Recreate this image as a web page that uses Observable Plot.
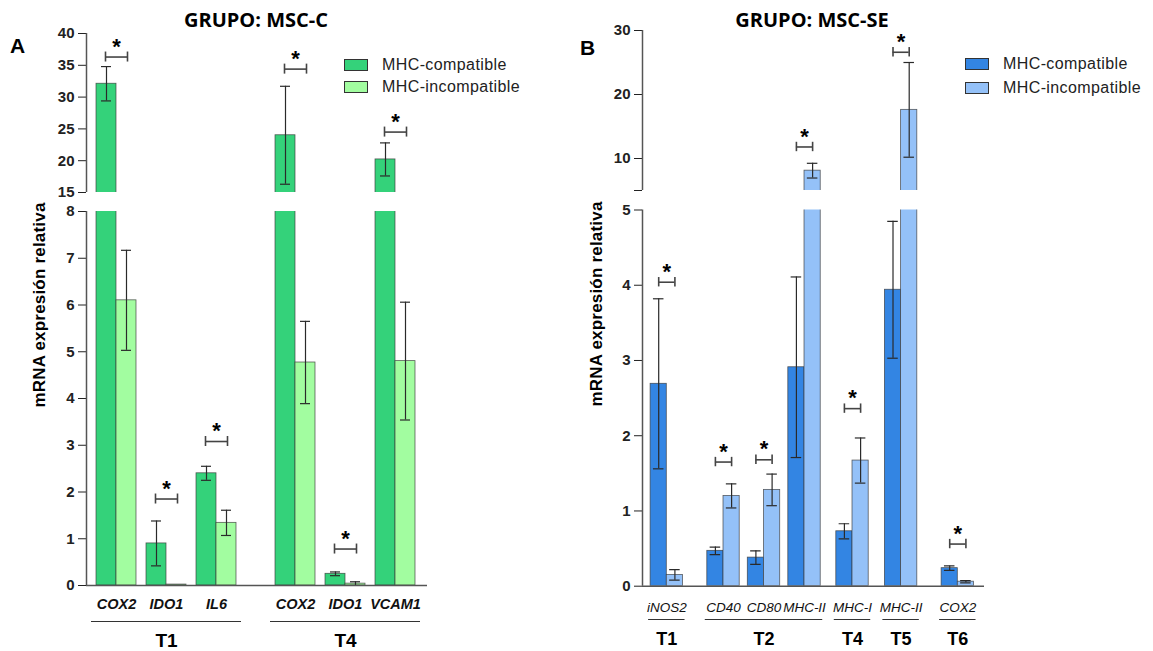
<!DOCTYPE html>
<html><head><meta charset="utf-8">
<script src="https://cdn.jsdelivr.net/npm/d3@7"></script>
<script src="https://cdn.jsdelivr.net/npm/@observablehq/plot@0.6"></script>
<style>
body{margin:0;background:#fff;}
#root{position:relative;width:1153px;height:651px;overflow:hidden;font-family:"Liberation Sans",Arial,sans-serif;background:#fff;}
.abs{position:absolute;}
.title{font-family:"Open Sans",sans-serif;font-weight:700;font-size:20px;line-height:20px;color:#000;white-space:nowrap;transform:translateX(-50%);}
.letter{font-family:"Liberation Sans",Arial,sans-serif;font-weight:700;font-size:21px;line-height:21px;color:#000;}
.ytitle{font-family:"Liberation Sans",Arial,sans-serif;font-weight:700;font-size:17px;line-height:17px;letter-spacing:0.2px;white-space:nowrap;color:#000;transform:translate(-50%,-50%) rotate(-90deg);}
.leg{font-family:"Liberation Sans",Arial,sans-serif;font-size:16px;line-height:16px;letter-spacing:0.4px;color:#222;white-space:nowrap;transform:translateY(-50%);}
.sw{width:22px;height:10px;border:1px solid #333;transform:translateY(-50%);}
</style></head>
<body><div id="root"></div>
<script>
// ---------------- DATA ----------------
const seriesNames = ["MHC-compatible", "MHC-incompatible"];

// Panel A — GRUPO: MSC-C
const titleA = "GRUPO: MSC-C";
const genesA  = ["COX2", "IDO1", "IL6", "COX2", "IDO1", "VCAM1"];
const groupsA = ["T1", "T1", "T1", "T4", "T4", "T4"];
const compatA    = [32.1, 0.90, 2.40, 24.0, 0.25, 20.2];
const compatErrA = [2.7, 0.48, 0.15, 7.7, 0.04, 2.6];
const incompA    = [6.10, 0.02, 1.34, 4.77, 0.04, 4.80];
const incompErrA = [1.07, 0, 0.27, 0.88, 0.04, 1.26];
const sigA       = [36.3, 1.85, 3.08, 34.4, 0.78, 24.5];   // height of "*" brackets
const ticksUpperA = [15, 20, 25, 30, 35, 40];
const ticksLowerA = [0, 1, 2, 3, 4, 5, 6, 7, 8];

// Panel B — GRUPO: MSC-SE
const titleB = "GRUPO: MSC-SE";
const genesB  = ["iNOS2", "CD40", "CD80", "MHC-II", "MHC-I", "MHC-II", "COX2"];
const groupsB = ["T1", "T2", "T2", "T2", "T4", "T5", "T6"];
const compatB    = [2.69, 0.47, 0.38, 2.91, 0.73, 3.94, 0.24];
const compatErrB = [1.13, 0.05, 0.09, 1.20, 0.10, 0.91, 0.03];
const incompB    = [0.15, 1.20, 1.28, 8.10, 1.67, 17.6, 0.06];
const incompErrB = [0.07, 0.16, 0.21, 1.15, 0.30, 7.40, 0.015];
const sigB       = [4.04, 1.65, 1.68, 11.8, 2.36, 26.6, 0.56];
const ticksUpperB = [5, 10, 20, 30];
const ticksLowerB = [0, 1, 2, 3, 4, 5];

// ---------------- BUILD ----------------
// gaps: extra spacing (in gene slots) inserted before each new group
function buildRows(genes, groups, c, ce, n, ne, sig, gaps) {
  const uniq = [...new Set(groups)];
  const cum = [0];
  for (let k = 1; k < uniq.length; k++) cum.push(cum[k - 1] + gaps[k - 1]);
  return genes.map((g, i) => ({
    gene: g, group: groups[i], pos: i + cum[uniq.indexOf(groups[i])],
    compat: c[i], compatErr: ce[i], incomp: n[i], incompErr: ne[i], sig: sig[i]
  }));
}
function toBars(rows) {
  const out = [];
  for (const r of rows) {
    out.push({series: seriesNames[0], x1: r.pos - 0.4, x2: r.pos, cx: r.pos - 0.2, value: r.compat, err: r.compatErr});
    out.push({series: seriesNames[1], x1: r.pos, x2: r.pos + 0.4, cx: r.pos + 0.2, value: r.incomp, err: r.incompErr});
  }
  return out;
}
function groupSpans(rows, ext) {
  const m = d3.groups(rows, r => r.group);
  return m.map(([g, rs]) => {
    const x1 = d3.min(rs, r => r.pos) - ext, x2 = d3.max(rs, r => r.pos) + ext;
    return {group: g, x1, x2, mid: (x1 + x2) / 2};
  });
}

const panelA = {
  rows: buildRows(genesA, groupsA, compatA, compatErrA, incompA, incompErrA, sigA, [0.58]),
  left: 0, width: 580, mL: 86, mR: 153, xDomain: [-0.6, 6.22],
  colors: ["#34D27A", "#A2FDA0"], errCap: 0.1, brW: 0.22, brCapPx: 5, groupExt: 0.5,
  geneFont: {fontSize: 14.5, fontWeight: "bold"}, geneDy: 18.5, lineDy: 36, groupDy: 55, groupFont: 19,
  upper: {top: 0, height: 202, mT: 33, mB: 10, domain: [15, 40], ticks: ticksUpperA, fmt: d => d},
  lower: {top: 200, height: 451, mT: 11, mB: 66, domain: [0, 8], ticks: ticksLowerA, fmt: d => d}
};
const panelB = {
  rows: buildRows(genesB, groupsB, compatB, compatErrB, incompB, incompErrB, sigB, [0.4, 0.185, 0.2, 0.4]),
  left: 560, width: 593, mL: 82, mR: 169, xDomain: [-0.6, 7.844],
  colors: ["#3385E3", "#94C1F8"], errCap: 0.13, brW: 0.2, brCapPx: 4.7, groupExt: 0.45,
  geneFont: {fontSize: 13.5, fontWeight: "normal"}, geneDy: 21.3, lineDy: 33.3, groupDy: 52.6, groupFont: 18,
  upper: {top: 0, height: 200, mT: 30, mB: 10, domain: [5, 30], ticks: ticksUpperB, fmt: d => d === 5 ? "" : d},
  lower: {top: 200, height: 451, mT: 9.5, mB: 65.3, domain: [0, 5], ticks: ticksLowerB, fmt: d => d}
};

function segment(p, s, isLower) {
  const bars = toBars(p.rows);
  const [lo, hi] = s.domain;
  const inner = s.height - s.mT - s.mB;
  const cap = p.brCapPx / (inner / (hi - lo));
  const sigRows = p.rows.filter(r => r.sig >= lo && r.sig <= hi);
  const errBars = bars.filter(b => b.err > 0);
  const marks = [
    Plot.rectY(bars, {x1: "x1", x2: "x2", y1: 0, y2: "value", fill: "series", stroke: "#3a3a3a", strokeWidth: 0.8, strokeOpacity: 0.8, clip: true}),
    Plot.ruleX(errBars, {x: "cx", y1: d => d.value - d.err, y2: d => d.value + d.err, stroke: "#2a2a2a", strokeWidth: 1.2, clip: true}),
    Plot.ruleY(errBars, {y: d => d.value + d.err, x1: d => d.cx - p.errCap, x2: d => d.cx + p.errCap, stroke: "#2a2a2a", strokeWidth: 1.2, clip: true}),
    Plot.ruleY(errBars, {y: d => d.value - d.err, x1: d => d.cx - p.errCap, x2: d => d.cx + p.errCap, stroke: "#2a2a2a", strokeWidth: 1.2, clip: true}),
    Plot.ruleY(sigRows, {y: "sig", x1: d => d.pos - p.brW, x2: d => d.pos + p.brW, stroke: "#444", strokeWidth: 1.6}),
    Plot.ruleX(sigRows, {x: d => d.pos - p.brW, y1: d => d.sig - cap, y2: d => d.sig + cap, stroke: "#444", strokeWidth: 1.6}),
    Plot.ruleX(sigRows, {x: d => d.pos + p.brW, y1: d => d.sig - cap, y2: d => d.sig + cap, stroke: "#444", strokeWidth: 1.6}),
    Plot.text(sigRows, {x: "pos", y: "sig", text: d => "*", dy: -10.5, fontSize: 22, fontWeight: "bold", fill: "#000", fontFamily: "Liberation Sans, Arial, sans-serif"}),
    Plot.ruleX([p.xDomain[0]], {stroke: "#555", strokeWidth: 1.5})
  ];
  if (isLower) {
    const spans = groupSpans(p.rows, p.groupExt);
    marks.push(
      Plot.ruleY([0], {stroke: "#555", strokeWidth: 1.5}),
      Plot.text(p.rows, {x: "pos", y: 0, text: "gene", dy: p.geneDy, fontStyle: "italic", fill: "#111",
        fontFamily: "Liberation Sans, Arial, sans-serif", ...p.geneFont}),
      Plot.ruleY(spans, {y: 0, x1: "x1", x2: "x2", dy: p.lineDy, stroke: "#333", strokeWidth: 1.2}),
      Plot.text(spans, {x: "mid", y: 0, text: "group", dy: p.groupDy, fontSize: p.groupFont, fontWeight: "bold", fill: "#000",
        fontFamily: "Liberation Sans, Arial, sans-serif"})
    );
  }
  const svg = Plot.plot({
    width: p.width, height: s.height,
    marginLeft: p.mL, marginRight: p.mR, marginTop: s.mT, marginBottom: s.mB,
    x: {type: "linear", domain: p.xDomain, axis: null},
    y: {domain: s.domain, ticks: s.ticks, tickSize: 8, tickPadding: 4, tickFormat: s.fmt, label: null},
    color: {domain: seriesNames, range: p.colors},
    style: {fontFamily: "Liberation Sans, Arial, sans-serif", fontSize: "15px", fontWeight: "bold", color: "#222", background: "transparent", overflow: "visible"},
    marks
  });
  svg.style.position = "absolute";
  svg.style.left = p.left + "px";
  svg.style.top = s.top + "px";
  svg.style.maxWidth = "none";
  return svg;
}

const root = document.getElementById("root");
function addDiv(cls, text, css) {
  const d = document.createElement("div");
  d.className = "abs " + cls;
  if (text != null) d.textContent = text;
  Object.assign(d.style, css);
  root.appendChild(d);
  return d;
}

for (const p of [panelA, panelB]) {
  root.appendChild(segment(p, p.upper, false));
  root.appendChild(segment(p, p.lower, true));
}

// titles, panel letters, axis titles, legends
addDiv("title", titleA, {left: "256px", top: "10px"});
addDiv("title", titleB, {left: "812px", top: "10px"});
addDiv("letter", "A", {left: "10px", top: "35px"});
addDiv("letter", "B", {left: "580px", top: "37px"});
addDiv("ytitle", "mRNA expresión relativa", {left: "39px", top: "305px"});
addDiv("ytitle", "mRNA expresión relativa", {left: "596px", top: "304px"});

function legend(x, y0, dy, colors) {
  seriesNames.forEach((name, i) => {
    const cy = y0 + i * dy;
    addDiv("sw", null, {left: x + "px", top: cy + "px", background: colors[i]});
    addDiv("leg", name, {left: (x + 38) + "px", top: cy + "px"});
  });
}
legend(344, 64.7, 22.3, panelA.colors);
legend(965, 63.5, 24, panelB.colors);
</script>
</body></html>
